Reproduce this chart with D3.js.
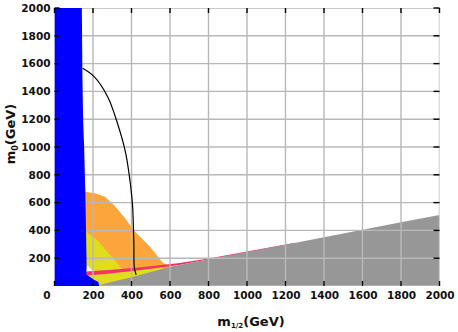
<!DOCTYPE html>
<html>
<head>
<meta charset="utf-8">
<script src="https://cdn.jsdelivr.net/npm/d3@7"></script>
<style>
  body { margin: 0; background: #fff; }
  svg text { font-family: "DejaVu Sans", sans-serif; fill: #111; }
</style>
</head>
<body>
<div id="chart"></div>
<script>
// tick values on both axes (GeV)
const xTicks = [0, 200, 400, 600, 800, 1000, 1200, 1400, 1600, 1800, 2000];
const yTicks = [200, 400, 600, 800, 1000, 1200, 1400, 1600, 1800, 2000];

// excluded / allowed regions, [m1/2, m0] in GeV
const blueRegion = [[0, 2000], [142, 2000], [145, 1500], [149, 1180], [154, 1000], [160, 680],
    [167, 140], [165, 85], [205, 45], [228, 28], [232, 0], [0, 0]];
const orangeRegion = [[158, 678], [210, 667], [262, 642], [300, 595], [323, 559], [367, 487],
    [410, 403], [496, 283], [565, 163], [600, 145], [600, 0], [158, 0]];
const yellowRegion = [[158, 396], [221, 331], [366, 100], [560, 140], [560, 0], [158, 0]];
const whiteWedge = [[158, 165], [205, 100], [158, 100]];
const pinkTop = [[160, 104], [300, 117], [450, 135], [640, 163], [800, 198], [1000, 248], [1250, 312]];
const pinkBottom = [[1250, 306], [1000, 241], [800, 191], [640, 149], [450, 116], [300, 92], [160, 74]];
const grayRegion = [[215, 0], [300, 30], [400, 63], [600, 139], [800, 192], [1000, 245], [1200, 297],
    [1400, 350], [1600, 404], [1800, 458], [2000, 511], [2000, 0]];
const blackLine = [[146, 1566], [206, 1506], [276, 1362], [327, 1171], [370, 955], [396, 714],
    [406, 570], [409, 460], [412, 320], [415, 130], [424, 80]];

const width = 458, height = 332;
const svg = d3.select("#chart").append("svg")
    .attr("width", width)
    .attr("height", height);

const x = d3.scaleLinear().domain([0, 2000]).range([54.5, 439.5]);
const y = d3.scaleLinear().domain([0, 2000]).range([286, 8]);

svg.append("clipPath").attr("id", "plot-clip")
    .append("rect")
    .attr("x", x(0)).attr("y", y(2000))
    .attr("width", x(2000) - x(0)).attr("height", y(0) - y(2000));

const plot = svg.append("g").attr("clip-path", "url(#plot-clip)");

const line = d3.line().x(d => x(d[0])).y(d => y(d[1]));
const poly = pts => line(pts) + "Z";

// filled regions, back to front
plot.append("path").attr("d", poly(orangeRegion)).attr("fill", "#fba53a");
plot.append("path").attr("d", poly(yellowRegion)).attr("fill", "#e0dc1e");
plot.append("path").attr("d", poly(whiteWedge)).attr("fill", "#fff");
plot.append("path").attr("d", poly(pinkTop.concat(pinkBottom))).attr("fill", "#f8306a");
plot.append("path").attr("d", poly(grayRegion)).attr("fill", "#979797");

// grid drawn over everything but the blue band
plot.selectAll(".vgrid").data(xTicks).join("line")
    .attr("x1", d => x(d)).attr("x2", d => x(d))
    .attr("y1", y(0)).attr("y2", y(2000))
    .attr("stroke", "#b8b8b8").attr("stroke-width", 1.4);
plot.selectAll(".hgrid").data([0].concat(yTicks)).join("line")
    .attr("x1", x(0)).attr("x2", x(2000))
    .attr("y1", d => y(d)).attr("y2", d => y(d))
    .attr("stroke", "#b8b8b8").attr("stroke-width", 1.4);

plot.append("path").attr("d", poly(blueRegion)).attr("fill", "#0000ff");

// constraint contour
plot.append("path")
    .datum(blackLine)
    .attr("fill", "none")
    .attr("stroke", "#000")
    .attr("stroke-width", 1.2)
    .attr("d", d3.line().curve(d3.curveCatmullRom).x(d => x(d[0])).y(d => y(d[1])));

// short black ticks pointing inward on all four sides
const ticks = svg.append("g").attr("stroke", "#000").attr("stroke-width", 1.4);
xTicks.forEach(d => {
    ticks.append("line").attr("x1", x(d)).attr("x2", x(d)).attr("y1", y(0)).attr("y2", y(0) - 5);
    ticks.append("line").attr("x1", x(d)).attr("x2", x(d)).attr("y1", y(2000)).attr("y2", y(2000) + 5);
});
yTicks.forEach(d => {
    ticks.append("line").attr("x1", x(0)).attr("x2", x(0) + 5).attr("y1", y(d)).attr("y2", y(d));
    ticks.append("line").attr("x1", x(2000)).attr("x2", x(2000) - 6).attr("y1", y(d)).attr("y2", y(d));
});

// tick labels
const xAxis = svg.append("g")
    .attr("transform", `translate(0,${y(0)})`)
    .call(d3.axisBottom(x).tickValues(xTicks).tickFormat(d3.format("d")).tickSize(0).tickPadding(6));
const yAxis = svg.append("g")
    .attr("transform", `translate(${x(0)},0)`)
    .call(d3.axisLeft(y).tickValues(yTicks).tickFormat(d3.format("d")).tickSize(0).tickPadding(4));
[xAxis, yAxis].forEach(a => {
    a.select(".domain").remove();
    a.selectAll("text").attr("font-size", 10.5).attr("font-weight", "bold")
        .attr("font-family", null).attr("fill", "#222");
});
xAxis.selectAll(".tick").filter(d => d === 0).select("text").attr("dx", -8);

// axis titles
const xTitle = svg.append("text")
    .attr("x", 251).attr("y", 326)
    .attr("text-anchor", "middle")
    .attr("font-size", 13).attr("font-weight", "bold").attr("fill", "#222");
xTitle.append("tspan").text("m");
xTitle.append("tspan").attr("font-size", 7).attr("dy", 2).text("1/2");
xTitle.append("tspan").attr("dy", -2).text("(GeV)");

const yTitle = svg.append("text")
    .attr("transform", "translate(15,134) rotate(-90)")
    .attr("text-anchor", "middle")
    .attr("font-size", 13).attr("font-weight", "bold").attr("fill", "#222");
yTitle.append("tspan").text("m");
yTitle.append("tspan").attr("font-size", 8).attr("dy", 3).text("0");
yTitle.append("tspan").attr("dy", -3).text("(GeV)");
</script>
</body>
</html>
